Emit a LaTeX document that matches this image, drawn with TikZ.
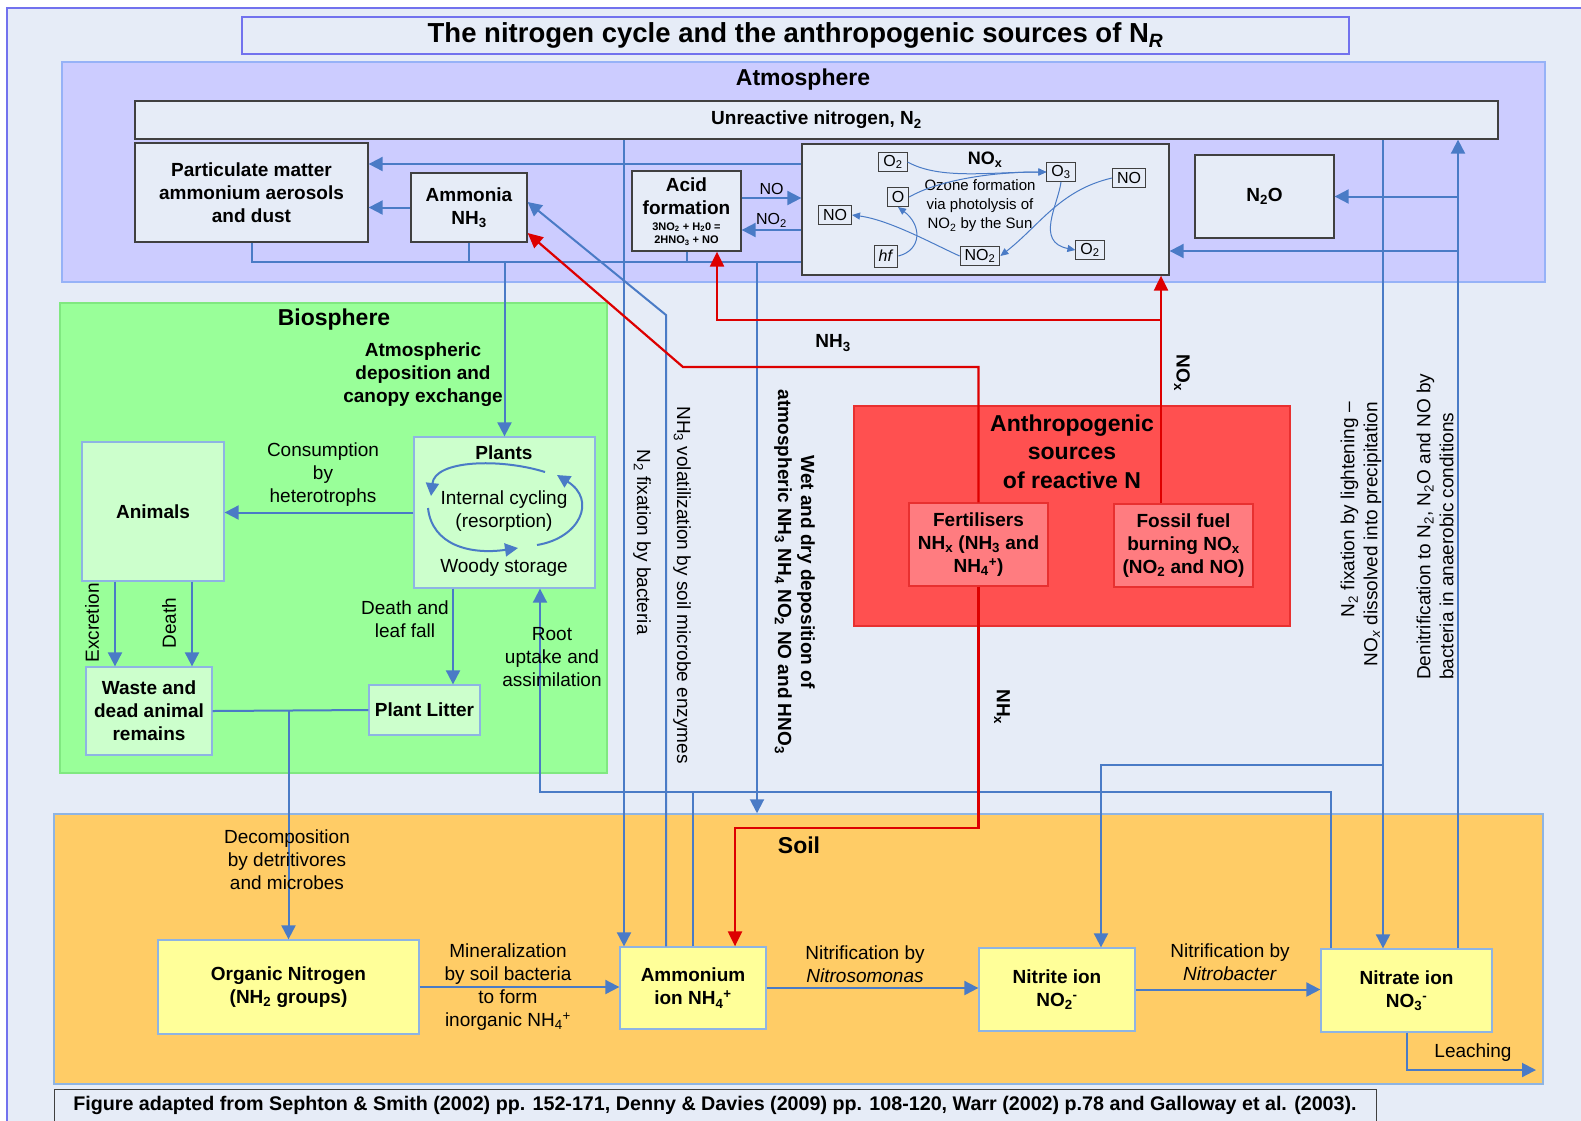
\documentclass[tikz,border=0pt]{standalone}
\usepackage{fontspec}
\setmainfont{Liberation Sans}
\usetikzlibrary{arrows.meta}

\definecolor{fond}{HTML}{E6ECF7}
\definecolor{cadre}{HTML}{7272EE}
\definecolor{atmfond}{HTML}{CCCCFF}
\definecolor{atmbord}{HTML}{96B2F7}
\definecolor{biofond}{HTML}{99FF99}
\definecolor{biobord}{HTML}{80E880}
\definecolor{bioclair}{HTML}{CCFFCC}
\definecolor{solfond}{HTML}{FFCC66}
\definecolor{solclair}{HTML}{FFFF99}
\definecolor{bordclair}{HTML}{8EB4E3}
\definecolor{rougefond}{HTML}{FF5050}
\definecolor{rougeclair}{HTML}{FF7C80}
\definecolor{rougebord}{HTML}{E83030}
\definecolor{fleche}{HTML}{4A7BC6}
\definecolor{rouge}{HTML}{DD0000}
\definecolor{gris}{HTML}{404040}

\newcommand\fnorm{\fontsize{19}{23}\selectfont}
\newcommand\fpetit{\fontsize{15}{19}\selectfont}
\newcommand\fno{\fontsize{16}{19}\selectfont}
\newcommand\fgrand{\fontsize{23}{28.5}\selectfont}
\newcommand\ftitre{\fontsize{27.5}{30}\selectfont}
\newcommand\fform{\fontsize{11}{13.5}\selectfont}
\newcommand\sub[1]{\textsubscript{#1}}
\newcommand\sups[1]{\textsuperscript{#1}}

\tikzset{
  zone/.style={draw=#1, line width=1.5pt, inner sep=0pt},
  boite/.style={draw=gris, fill=fond, line width=1.3pt, inner sep=0pt, align=center, font=\fnorm\bfseries},
  bioboite/.style={boite, draw=bordclair, fill=bioclair},
  solboite/.style={boite, draw=bordclair, fill=solclair},
  rougeboite/.style={boite, draw=rougebord, fill=rougeclair},
  chimie/.style={draw=gris, fill=fond, line width=1pt, inner xsep=4.5pt, inner ysep=1pt, minimum height=19, font=\fno},
  flux/.style={draw=fleche, line width=2pt},
  fl/.style={flux, -{Triangle[length=14pt,width=14pt]}},
  flr/.style={draw=rouge, line width=2.2pt, -{Triangle[length=15pt,width=14pt]}},
  photo/.style={draw=fleche, line width=1pt, -{Triangle[length=8pt,width=7pt]}},
  txt/.style={font=\fnorm, align=center, inner sep=0pt},
  gtxt/.style={txt, font=\fnorm\bfseries},
  zonelbl/.style={txt, font=\fgrand\bfseries}
}

\begin{document}
\begin{tikzpicture}[x=1pt,y=-1pt]
\useasboundingbox (0,0) rectangle (1581,1120);
\fill[white] (0,0) rectangle (1581,1120);
\draw[cadre, line width=1.2pt, fill=fond] (7,8) rectangle (1600,1140);
\node[draw=cadre, line width=1.5pt, fill=fond, minimum width=1107, minimum height=37, inner sep=0pt, font=\ftitre\bfseries] (titre) at (795.5,35.5) {The nitrogen cycle and the anthropogenic sources of N\sub{\textit{R}}};

% zones
\node[zone=atmbord, fill=atmfond, minimum width=1483, minimum height=220] (atm) at (803.5,172) {};
\node[zone=biobord, fill=biofond, minimum width=547, minimum height=470] (bio) at (333.5,538) {};
\node[zone=bordclair, fill=solfond, minimum width=1489, minimum height=270] (soil) at (798.5,949) {};
\node[zone=rougebord, fill=rougefond, minimum width=436, minimum height=220] (anthro) at (1072,516) {};
\node[zonelbl] (atmlbl) at (803,80) {Atmosphere};
\node[zonelbl] (biolbl) at (334,320) {Biosphere};
\node[zonelbl] (soillbl) at (799,845) {Soil};

% atmosphere
\node[boite, minimum width=1363, minimum height=38] (n2) at (816.5,120) {Unreactive nitrogen, N\sub2};
\node[boite, minimum width=233, minimum height=99] (pm) at (251.5,192.5) {Particulate matter\\ammonium aerosols\\and dust};
\node[boite, minimum width=116, minimum height=69] (nh3) at (469,207.5) {Ammonia\\NH\sub3};
\node[boite, minimum width=109, minimum height=80] (acid) at (686.5,211) {};
\node[gtxt] (acidlbl) at (686.5,196) {Acid\\formation};
\node[font=\fform\bfseries, align=center, inner sep=0pt] (acideq) at (686.5,234) {3NO\sub2 + H\sub20 =\\2HNO\sub3 + NO};
\node[boite, minimum width=367, minimum height=131] (nox) at (985.5,209.5) {};
\node[boite, minimum width=139, minimum height=83] (n2o) at (1264.5,196.5) {N\sub2O};

% NOx et photolyse
\node[font=\fontsize{18}{20}\selectfont\bfseries] (noxlbl) at (985,160) {NO\sub{x}};
\node[font=\fpetit, align=center, inner sep=0pt] (ozonelbl) at (980,206) {Ozone formation\\via photolysis of\\NO\sub2 by the Sun};
\node[chimie] (o2a) at (893,162) {O\sub2};
\node[chimie] (o3) at (1061,172) {O\sub3};
\node[chimie] (nor) at (1129,178) {NO};
\node[chimie] (o) at (898,197) {O};
\node[chimie] (nol) at (835,215) {NO};
\node[chimie, minimum height=22] (hf) at (886,256) {\textit{hf}};
\node[chimie] (no2) at (980,256) {NO\sub2};
\node[chimie] (o2b) at (1090,250) {O\sub2};
\draw[photo] (o2a.east) .. controls (940,180) and (990,172) .. (o3.west);
\draw[photo] (o.east) .. controls (935,182) and (985,172) .. (o3.west);
\draw[photo] (nor.west) .. controls (1060,190) and (1040,225) .. (no2.east);
\draw[photo] (o3.south) .. controls (1058,205) and (1035,242) .. (o2b.west);
\draw[photo] (no2.west) .. controls (935,245) and (890,220) .. (nol.east);
\draw[photo] (hf.east) .. controls (922,250) and (922,225) .. (o.south);

% sources anthropiques
\node[font=\fgrand\bfseries, align=center, inner sep=0pt] (anthrolbl) at (1072,451.5) {Anthropogenic\\sources\\of reactive N};
\node[rougeboite, minimum width=139, minimum height=83] (fert) at (978.5,544.5) {Fertilisers\\NH\sub{x} (NH\sub3 and\\NH\sub4\sups{+})};
\node[rougeboite, minimum width=139, minimum height=83] (fossil) at (1183.5,545.5) {Fossil fuel\\burning NO\sub{x}\\(NO\sub2 and NO)};

% biosphere
\node[bioboite, minimum width=181, minimum height=151] (plants) at (504.5,512.5) {};
\node[gtxt] (plantslbl) at (504,453) {Plants};
\node[txt] (cyclelbl) at (504,511) {Internal cycling\\(resorption)};
\node[txt] (woodlbl) at (504,568) {Woody storage};
\node[bioboite, minimum width=142, minimum height=139] (animals) at (153,511.5) {Animals};
\node[bioboite, minimum width=126, minimum height=88] (waste) at (149,711) {Waste and\\dead animal\\remains};
\node[bioboite, minimum width=111, minimum height=50] (litter) at (424.5,710) {Plant Litter};

% sol
\node[solboite, minimum width=261, minimum height=94] (orgn) at (288.5,987) {Organic Nitrogen\\(NH\sub2 groups)};
\node[solboite, minimum width=146, minimum height=82] (amm) at (693,988) {Ammonium\\ion NH\sub4\sups{+}};
\node[solboite, minimum width=156, minimum height=83] (nitrite) at (1057,989.5) {Nitrite ion\\NO\sub2\sups{-}};
\node[solboite, minimum width=171, minimum height=83] (nitrate) at (1406.5,990.5) {Nitrate ion\\NO\sub3\sups{-}};

\node[draw=gris, line width=1.2pt, fill=fond, minimum width=1322, minimum height=45, anchor=north west, inner sep=0pt] (source) at (54,1089) {};
\node[font=\fontsize{19.7}{23}\selectfont\bfseries, inner sep=0pt] (sourcetxt) at (715,1105) {Figure adapted from Sephton \& Smith (2002) pp. 152-171, Denny \& Davies (2009) pp. 108-120, Warr (2002) p.78 and Galloway et al. (2003).};

% points de passage
\coordinate (bus) at (0,262);
\coordinate (racine) at (0,792);
\coordinate (fixb) at (624,0);
\coordinate (volat) at (666,0);
\coordinate (depot) at (757,0);
\coordinate (eclair) at (1383,0);
\coordinate (denit) at (1458,0);
\coordinate (absorb) at (540,0);
\coordinate (nitrr) at (1331,0);
\coordinate (fossx) at (1161,0);
\coordinate (acidx) at (717,0);
\coordinate (nhxx) at (735,0);
\coordinate (volcoude) at (666,315);
\coordinate (nitrcoude) at (1101,765);
\coordinate (noxin) at ([yshift=-41.5pt]nox.east);
\coordinate (nh3coude) at (683,367);
\coordinate (noxcoude) at (1161,320);
\coordinate (nhxcoude) at (978.5,828);
\coordinate (lessiv) at (1536,1070);

% flux bleus
\draw[flux] (pm.south) |- (nox.west |- bus);
\draw[flux] (nh3.south) -- (nh3.south |- bus);
\draw[flux] (acid.south) -- (acid.south |- bus);
\draw[fl] (plants.north |- bus) -- (plants.north);
\draw[fl] (depot |- bus) -- (depot |- soil.north);
\draw[fl] ([yshift=28.5pt]pm.east -| nox.west) -- ([yshift=28.5pt]pm.east);
\draw[fl] (nh3.west) -- (nh3.west -| pm.east);
\draw[fl] ([yshift=13pt]acid.east) -- ([yshift=13pt]acid.east -| nox.west) node[midway, above=2pt, font=\fno, inner sep=0pt] (nolbl) {NO};
\draw[fl] ([yshift=-19pt]acid.east -| nox.west) -- ([yshift=-19pt]acid.east) node[midway, above=2pt, font=\fno, inner sep=0pt] (no2lbl) {NO\sub2};
\draw[fl] (fixb |- n2.south) -- (fixb |- amm.north);
\draw[fl] (volat |- amm.north) -- (volcoude) -- ([yshift=5.5pt]nh3.east);
\draw[flux] (amm.north) -- (amm.north |- racine);
\draw[fl] (nitrr |- nitrate.north) |- (absorb |- racine) -- (absorb |- plants.south);
\draw[fl] (eclair |- n2.south) -- (eclair |- nitrate.north);
\draw[fl] (eclair |- nitrcoude) -- (nitrcoude) -- (nitrcoude |- nitrite.north);
\draw[fl] (denit |- nitrate.north) -- (denit |- n2.south);
\draw[fl] (denit |- n2o.east) -- (n2o.east);
\draw[fl] (denit |- noxin) -- (noxin);

% flux rouges
\draw[flr] (fert.north) |- (nh3coude) -- ([yshift=-25.5pt]nh3.east);
\draw[flr] (fossx |- fossil.north) -- (fossx |- nox.south);
\draw[flr] (noxcoude) -| (acidx |- acid.south);
\draw[flr] (fert.south) -- (nhxcoude) -| (nhxx |- amm.north);

% biosphere
\draw[fl] (plants.west) -- (plants.west -| animals.east);
\draw[fl] ([xshift=-38pt]animals.south) -- ([xshift=-38pt]animals.south |- waste.north);
\draw[fl] ([xshift=39pt]animals.south) -- ([xshift=39pt]animals.south |- waste.north);
\draw[fl] ([xshift=-51.5pt]plants.south) -- ([xshift=-51.5pt]plants.south |- litter.north);
\draw[flux] (waste.east) -- (litter.west);
\draw[fl] (orgn.north |- waste.east) -- (orgn.north);
\begin{scope}[shift={(plants.center)}]
  \draw[fl, -{Triangle[length=13pt,width=13pt]}] (40.5,-40.5) .. controls (-4.5,-54.5) and (-69.5,-52.5) .. (-73.5,-16.5);
  \draw[fl, -{Triangle[length=13pt,width=13pt]}] (-76.5,-4.5) .. controls (-72.5,32.5) and (-34.5,42.5) .. (13.5,35.5);
  \draw[fl, -{Triangle[length=13pt,width=13pt]}] (32.5,32.5) .. controls (75.5,25.5) and (92.5,-12.5) .. (52.5,-37.5);
\end{scope}

% sol
\draw[fl] (orgn.east) -- (orgn.east -| amm.west);
\draw[fl] (amm.east) -- (amm.east -| nitrite.west);
\draw[fl] (nitrite.east) -- (nitrite.east -| nitrate.west);
\draw[fl] (nitrate.south) |- (lessiv);

% textes des flux
\node[gtxt] (lbldepo) at (423,375) {Atmospheric\\deposition and\\canopy exchange};
\node[txt] (lblconso) at (323,475) {Consumption\\by\\heterotrophs};
\node[txt] (lblmort) at (405,619) {Death and\\leaf fall};
\node[txt] (lblracine) at (552,657) {Root\\uptake and\\assimilation};
\node[txt, rotate=90] (lblexcr) at (92,623) {Excretion};
\node[txt, rotate=90] (lbldeath) at (169,623) {Death};
\node[txt] (lbldecomp) at (287,860) {Decomposition\\by detritivores\\and microbes};
\node[txt] (lblmin) at (508,987) {Mineralization\\by soil bacteria\\to form\\inorganic NH\sub4\sups{+}};
\node[txt] (lblnitr1) at (865,964) {Nitrification by\\\textit{Nitrosomonas}};
\node[txt] (lblnitr2) at (1230,962) {Nitrification by\\\textit{Nitrobacter}};
\node[txt] (lbllessiv) at (1473,1053) {Leaching};
\node[txt, rotate=-90] (lblfix) at (642,542) {N\sub2 fixation by bacteria};
\node[txt, rotate=-90] (lblvol) at (682,585) {NH\sub3 volatilization by soil microbe enzymes};
\node[gtxt, rotate=-90] (lbldep) at (794.5,572) {Wet and dry deposition of\\atmospheric NH\sub3 NH\sub4 NO\sub2 NO and HNO\sub3};
\node[txt, rotate=90, align=right, anchor=east] (lblecl) at (1361,402) {N\sub2 fixation by lightening –\\NO\sub{\textit{x}} dissolved into precipitation};
\node[txt, rotate=90, align=left, anchor=west] (lbldenit) at (1435,680) {Denitrification to N\sub2, N\sub2O and NO by\\bacteria in anaerobic conditions};
\node[gtxt] (lblnh3) at (833,343) {NH\sub3};
\node[gtxt, rotate=-90] (lblnox) at (1182,373) {NO\sub{x}};
\node[gtxt, rotate=-90] (lblnhx) at (1002,707) {NH\sub{x}};
\end{tikzpicture}
\end{document}
